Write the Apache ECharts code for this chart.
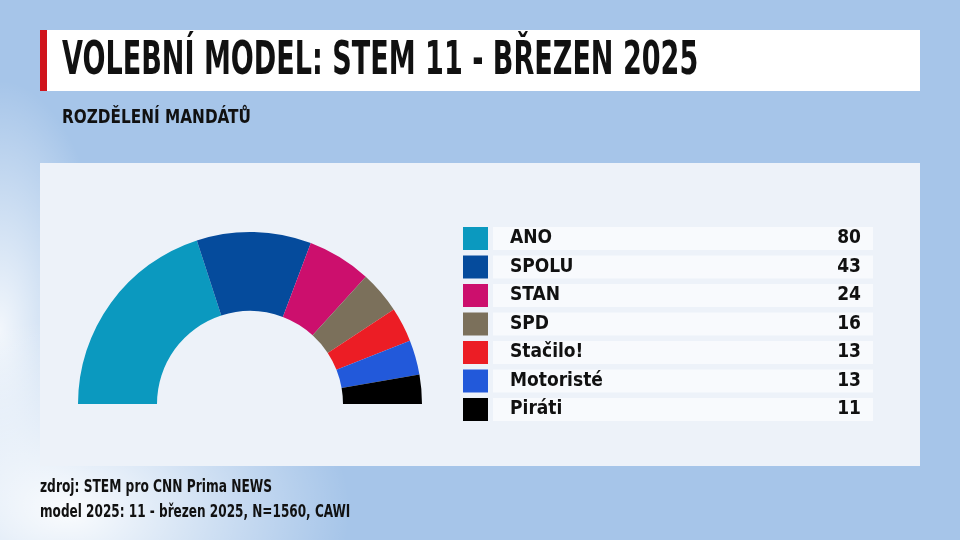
<!DOCTYPE html>
<html>
<head>
<meta charset="utf-8">
<script src="https://cdn.jsdelivr.net/npm/echarts@6/dist/echarts.min.js"></script>
<style>
  html, body { margin: 0; padding: 0; }
  body {
    width: 960px; height: 540px; overflow: hidden;
    background:
      radial-gradient(ellipse 280px 190px at 70px 510px, rgba(255,255,255,0.95), rgba(255,255,255,0) 100%),
      radial-gradient(ellipse 110px 250px at 0px 330px, rgba(255,255,255,0.85), rgba(255,255,255,0) 100%),
      #a6c5e9;
  }
  #main { width: 960px; height: 540px; }
</style>
</head>
<body>
<div id="main"></div>
<script>
// strany a mandáty
const parties = ['ANO', 'SPOLU', 'STAN', 'SPD', 'Stačilo!', 'Motoristé', 'Piráti'];
const seats = [80, 43, 24, 16, 13, 13, 11];
const colors = ['#0b99bf', '#054b9c', '#cc0f6d', '#7b705b', '#ec1d25', '#2259da', '#000000'];

const font = '"DejaVu Sans Condensed", "Liberation Sans Narrow", Roboto, sans-serif';
const chart = echarts.init(document.getElementById('main'), null, { width: 960, height: 540 });

const seatOf = {};
parties.forEach((p, i) => { seatOf[p] = seats[i]; });

const option = {
  backgroundColor: 'transparent',
  animation: false,
  graphic: [
    // hlavička
    { type: 'rect', shape: { x: 40, y: 30, width: 880, height: 61 }, style: { fill: '#ffffff' }, z: 0 },
    { type: 'rect', shape: { x: 40, y: 30, width: 7, height: 61 }, style: { fill: '#d0141c' }, z: 1 },
    { type: 'text', x: 62, y: 62, scaleX: 0.64,
      style: { text: 'VOLEBNÍ MODEL: STEM 11 - BŘEZEN 2025', font: 'bold 47px ' + font, fill: '#111', textVerticalAlign: 'middle' } },
    { type: 'text', x: 62, y: 118, scaleX: 0.85,
      style: { text: 'ROZDĚLENÍ MANDÁTŮ', font: 'bold 20px ' + font, fill: '#111', textVerticalAlign: 'middle' } },
    // panel
    { type: 'rect', shape: { x: 40, y: 163, width: 880, height: 303 }, style: { fill: '#edf2f9' }, z: -1 },
    // zdroj
    { type: 'text', x: 40, y: 488, scaleX: 0.8,
      style: { text: 'zdroj: STEM pro CNN Prima NEWS', font: 'bold 17px ' + font, fill: '#111', textVerticalAlign: 'middle' } },
    { type: 'text', x: 40, y: 513, scaleX: 0.79,
      style: { text: 'model 2025: 11 - březen 2025, N=1560, CAWI', font: 'bold 17px ' + font, fill: '#111', textVerticalAlign: 'middle' } }
  ],
  legend: {
    orient: 'vertical',
    left: 463,
    top: 227,
    padding: 0,
    itemWidth: 25,
    itemHeight: 23,
    itemGap: 5.5,
    icon: 'rect',
    selectedMode: false,
    data: parties,
    formatter: name => '{n|' + name + '}{v|' + seatOf[name] + '}',
    textStyle: {
      backgroundColor: '#f8fafd',
      padding: [0, 12, 0, 17],
      fontFamily: font,
      fontWeight: 'bold',
      fontSize: 19,
      color: '#111',
      rich: {
        n: { width: 311, height: 23, lineHeight: 23, fontFamily: font, fontWeight: 'bold', fontSize: 19, color: '#111' },
        v: { width: 40, height: 23, lineHeight: 23, align: 'right', fontFamily: font, fontWeight: 'bold', fontSize: 19, color: '#111' }
      }
    }
  },
  series: [{
    type: 'pie',
    center: [250, 404],
    radius: [93, 172],
    startAngle: 180,
    endAngle: 0,
    clockwise: true,
    label: { show: false },
    labelLine: { show: false },
    silent: true,
    itemStyle: { borderWidth: 0 },
    data: parties.map((p, i) => ({ name: p, value: seats[i], itemStyle: { color: colors[i] } }))
  }]
};
chart.setOption(option);
</script>
</body>
</html>
